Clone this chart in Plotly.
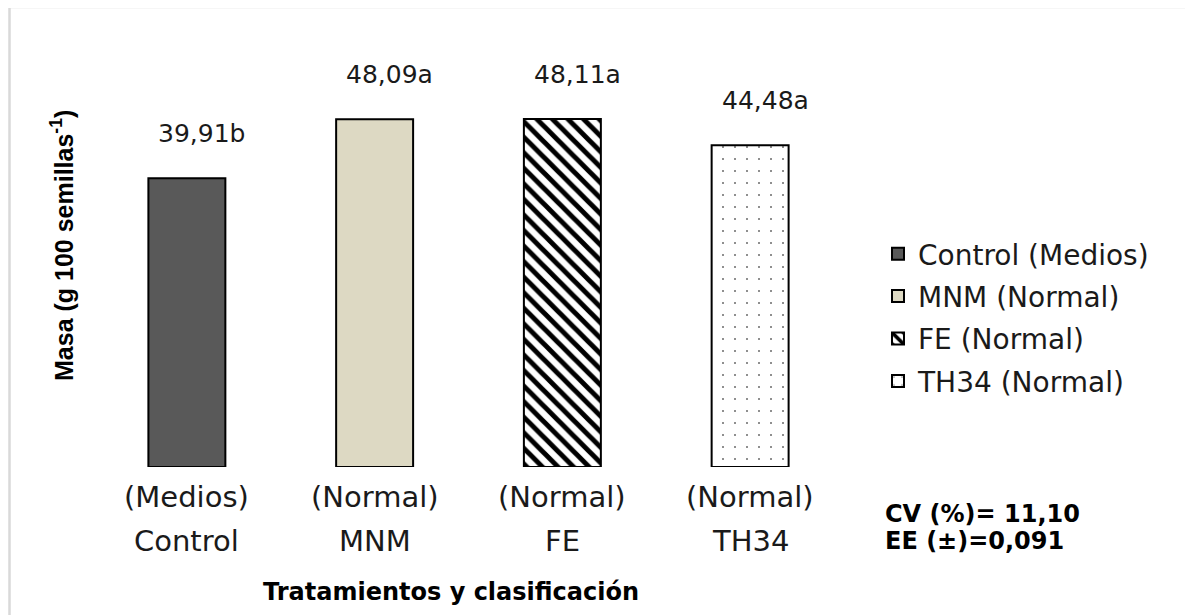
import plotly.graph_objects as go

# ---- data ----
categories = ["Control", "MNM", "FE", "TH34"]
classes = ["(Medios)", "(Normal)", "(Normal)", "(Normal)"]
values = [39.91, 48.09, 48.11, 44.48]
letters = ["b", "a", "a", "a"]
stats_lines = ["CV (%)= 11,10", "EE (±)=0,091"]
x_title = "Tratamientos y clasificación"
y_title = "Masa (g 100 semillas<sup>-1</sup>)"

# ---- styles ----
fills = ["#595959", "#DDD9C3", "#FFFFFF", "#FFFFFF"]
pattern_shapes = ["", "", "\\", "."]
pattern_sizes = [8, 8, 11, 12]
pattern_solid = [0.3, 0.3, 0.45, 0.015]

W_FIG, H_FIG = 1193, 615
OFF = 8  # page body margin offset
PW, PH = 751, 434
L, T = 93 - OFF, 33 - OFF
R, B = W_FIG - L - PW, H_FIG - T - PH


def px_x(px):
    return (px - OFF - L) / PW


def px_y(py):
    return (T + PH - (py - OFF)) / PH


FONT = "DejaVu Sans"

fig = go.Figure()
for i, cat in enumerate(categories):
    fig.add_trace(go.Bar(
        x=[cat], y=[values[i]],
        name=f"{cat} {classes[i]}",
        width=0.41,
        legendgroup=cat,
        marker=dict(
            color=fills[i],
            line=dict(color="black", width=2),
            pattern=dict(shape=pattern_shapes[i], fgcolor="black", bgcolor="white",
                         size=pattern_sizes[i], solidity=pattern_solid[i],
                         fillmode="replace") if pattern_shapes[i] else None,
        ),
        hoverinfo="skip",
    ))

annotations = []
for i, cat in enumerate(categories):
    annotations.append(dict(
        x=cat, y=values[i], xref="x", yref="y",
        text=f"{values[i]:.2f}".replace(".", ",") + letters[i],
        showarrow=False, yanchor="middle", yshift=45, xshift=15,
        font=dict(family=FONT, size=25, color="#1a1a1a"),
    ))
    annotations.append(dict(
        x=cat, y=px_y(497), xref="x", yref="paper",
        text=classes[i], showarrow=False, yanchor="middle",
        font=dict(family=FONT, size=29, color="#1a1a1a"),
    ))
    annotations.append(dict(
        x=cat, y=px_y(541), xref="x", yref="paper",
        text=cat, showarrow=False, yanchor="middle",
        font=dict(family=FONT, size=29, color="#1a1a1a"),
    ))

annotations.append(dict(
    x=px_x(451), y=px_y(592), xref="paper", yref="paper",
    text=f"<b>{x_title}</b>", showarrow=False, xanchor="center", yanchor="middle",
    font=dict(family=FONT, size=24, color="black"),
))
for j, line in enumerate(stats_lines):
    annotations.append(dict(
        x=px_x(883), y=px_y(514 + 27 * j), xref="paper", yref="paper",
        text=f"<b>{line}</b>", showarrow=False,
        xanchor="left", yanchor="middle", align="left",
        font=dict(family=FONT, size=24, color="black"),
    ))
annotations.append(dict(
    x=px_x(62), y=px_y(246), xref="paper", yref="paper",
    text=f"<b>{y_title}</b>", showarrow=False, textangle=-90,
    xanchor="center", yanchor="middle",
    font=dict(family="Liberation Sans", size=25, color="black"),
))

fig.update_layout(
    width=W_FIG, height=H_FIG,
    margin=dict(l=L, r=R, t=T, b=B, autoexpand=False),
    paper_bgcolor="white", plot_bgcolor="white",
    barmode="overlay",
    showlegend=True,
    legend=dict(
        x=px_x(878), y=px_y(229), xanchor="left", yanchor="top",
        font=dict(family=FONT, size=28, color="#1a1a1a"),
        traceorder="grouped", tracegroupgap=3,
        bgcolor="rgba(0,0,0,0)", itemclick=False,
    ),
    xaxis=dict(categoryorder="array", categoryarray=categories, range=[-0.5, 3.5],
               showticklabels=False, showline=False, showgrid=False, zeroline=False, ticks=""),
    yaxis=dict(range=[0, 60], showticklabels=False, showline=False, showgrid=False,
               zeroline=False, ticks=""),
    annotations=annotations,
    shapes=[dict(type="rect", xref="paper", yref="paper",
                 x0=px_x(9.5), y0=px_y(7), x1=px_x(1400), y1=px_y(800),
                 line=dict(color="#D9D9D9", width=2.5), fillcolor="rgba(0,0,0,0)",
                 layer="below")],
)

fig.write_html("out.html")
